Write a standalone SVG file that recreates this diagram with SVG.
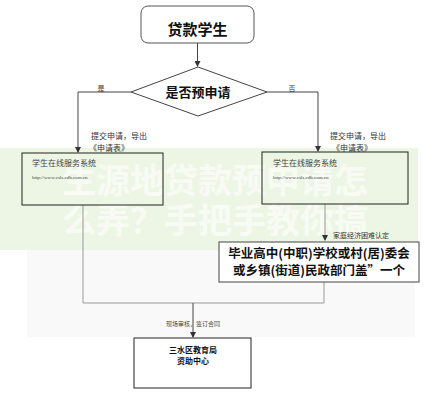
<svg xmlns="http://www.w3.org/2000/svg" width="428" height="400" viewBox="0 0 428 400">
<defs>
<marker id="arr" markerWidth="6" markerHeight="6" refX="5" refY="3" orient="auto" markerUnits="userSpaceOnUse">
<path d="M0,0 L6,3 L0,6 Z" fill="#333"/>
</marker>
<style>
.cjk{font-family:"Noto Sans CJK SC","Liberation Sans",sans-serif;}
.b{font-weight:bold;fill:#111;}
.sm{font-size:8px;fill:#333;}
.box{fill:none;stroke:#222;stroke-width:1;}
.ln{fill:none;stroke:#444;stroke-width:1;}
.ln2{fill:none;stroke:#999;stroke-width:1;}
.wm{font-size:34px;font-weight:bold;fill:#ffffff;fill-opacity:0.6;}
</style>
</defs>
<rect width="428" height="400" fill="#ffffff"/>
<rect x="27" y="250" width="388" height="87" fill="#f9f9f9"/>
<g id="watermark">
<rect x="0" y="148" width="418" height="102" fill="#edf6e5"/>
<text class="cjk wm" x="215" y="193" text-anchor="middle">生源地贷款预申请怎</text>
<text class="cjk wm" x="215" y="233" text-anchor="middle">么弄？手把手教你搞</text>
</g>
<g id="connectors">
<path class="ln" d="M197.5,43 V66" marker-end="url(#arr)"/>
<path class="ln" d="M131,92 H78 V152" marker-end="url(#arr)"/>
<path class="ln" d="M267,92 H318 V151" marker-end="url(#arr)"/>
<path class="ln2" d="M325,204 V240" marker-end="url(#arr)"/>
<path class="ln2" d="M83,205 V303 H324 V282"/>
<path class="ln" d="M193,303 V337" marker-end="url(#arr)"/>
<text class="cjk" x="101" y="91" text-anchor="middle" font-size="7" fill="#333">是</text>
<text class="cjk" x="292" y="91" text-anchor="middle" font-size="7" fill="#333">否</text>
<text class="cjk sm" x="91" y="139">提交申请，导出</text>
<text class="cjk sm" x="89" y="151">《申请表》</text>
<text class="cjk sm" x="330" y="139">提交申请，导出</text>
<text class="cjk sm" x="332" y="151">《申请表》</text>
<text class="cjk" x="333" y="238" font-size="7" fill="#333">家庭经济困难认定</text>
<text class="cjk" x="193" y="326" text-anchor="middle" font-size="6" fill="#444">现场审核，签订合同</text>
</g>
<g id="start">
<rect x="141" y="6" width="113" height="37" rx="7" fill="#fff" stroke="#555"/>
<text class="cjk b" x="197.5" y="35" text-anchor="middle" font-size="15">贷款学生</text>
</g>
<g id="decision">
<polygon points="198,67 267,92 198,116 131,92" fill="#fff" stroke="#444"/>
<text class="cjk b" x="198" y="97" text-anchor="middle" font-size="13">是否预申请</text>
</g>
<g id="left-system">
<rect class="box" x="22" y="153" width="141" height="52"/>
<text class="cjk" x="32" y="166" font-size="8" fill="#444">学生在线服务系统</text>
<text x="32" y="179" font-family="Liberation Serif,serif" font-size="5" fill="#444">http://www.csls.cdb.com.cn</text>
</g>
<g id="right-system">
<rect class="box" x="262" y="152" width="146" height="52"/>
<text class="cjk" x="273" y="166" font-size="8" fill="#444">学生在线服务系统</text>
<text x="273" y="179" font-family="Liberation Serif,serif" font-size="5" fill="#444">http://www.csls.cdb.com.cn</text>
</g>
<g id="certify">
<rect x="219" y="242" width="200" height="40" fill="#fff" stroke="#444"/>
<text class="cjk b" x="319" y="258" text-anchor="middle" font-size="12.5">毕业高中(中职)学校或村(居)委会</text>
<text class="cjk b" x="319" y="275" text-anchor="middle" font-size="12.5">或乡镇(街道)民政部门盖”一个</text>
</g>
<g id="center">
<rect x="134" y="338" width="117" height="50" fill="#fff" stroke="#222"/>
<text class="cjk b" x="193" y="353" text-anchor="middle" font-size="8">三水区教育局</text>
<text class="cjk b" x="193" y="364" text-anchor="middle" font-size="8">资助中心</text>
</g>
</svg>
